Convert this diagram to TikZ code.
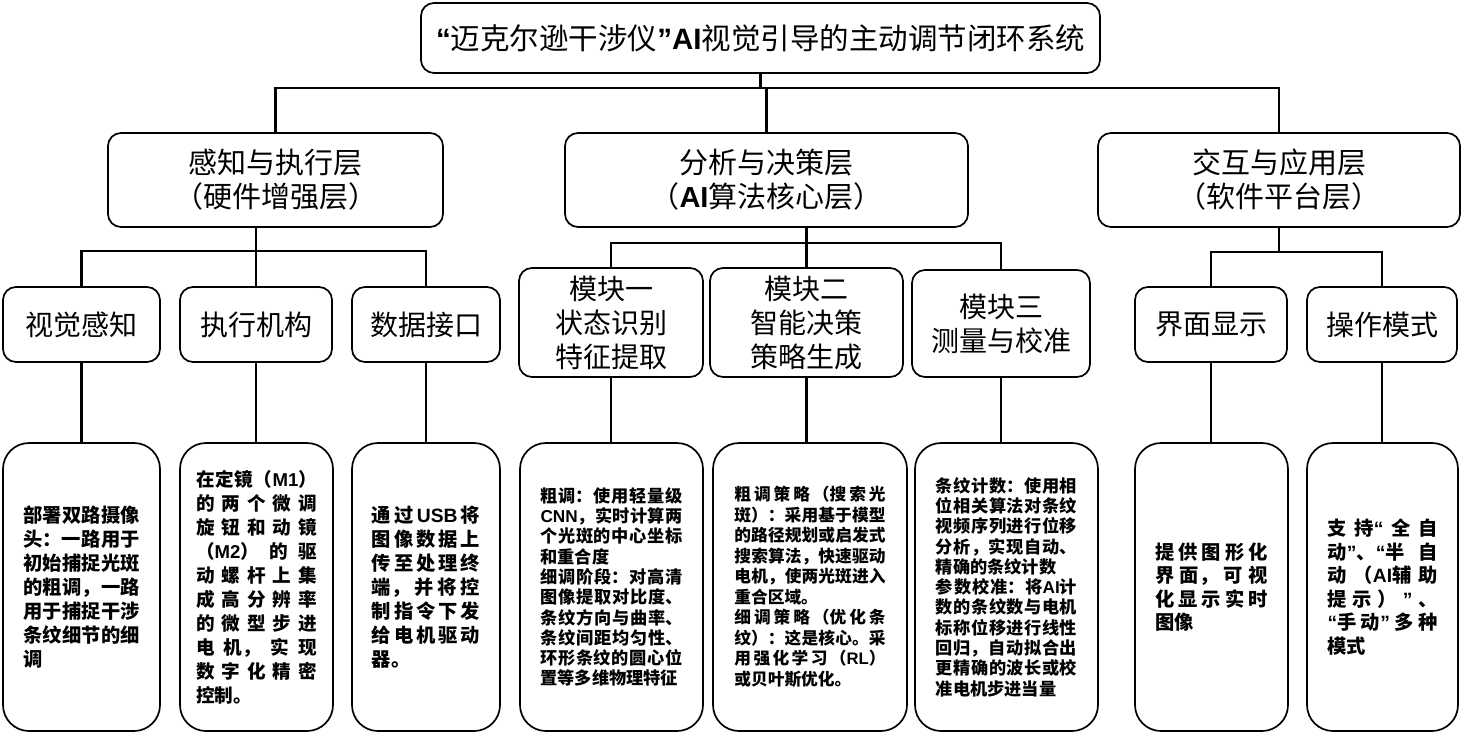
\documentclass[tikz,border=0pt]{standalone}
\usepackage{fontspec}
\setmainfont{Noto Sans CJK SC}
\newfontfamily\lat{Liberation Sans}
\newcommand\latn[1]{{\lat\bfseries #1}}
\XeTeXlinebreaklocale "zh"
\XeTeXlinebreakskip=0pt
\setlength\parindent{0pt}
\newcommand\dtext[2]{\parbox{#1}{\XeTeXlinebreakskip=0pt plus 1fil\relax\parfillskip=0pt plus 1fill\relax #2}}
\tikzset{
  box/.style={draw, line width=1.7pt, rounded corners=13pt, inner sep=0pt, align=center},
  layer/.style={box, minimum height=94pt, font=\fontsize{29}{34}\selectfont},
  leaf/.style={box, minimum height=75pt, font=\fontsize{28}{34}\selectfont},
  module/.style={box, minimum height=109pt, font=\fontsize{28}{34}\selectfont},
  detail/.style={draw, line width=1.7pt, rounded corners=26pt, inner sep=0pt, minimum height=288pt},
  dA/.style={detail, font=\fontsize{19.3}{24}\selectfont\bfseries},
  dB/.style={detail, font=\fontsize{17.2}{20.3}\selectfont\bfseries},
  link/.style={line width=2.8pt},
}
\begin{document}
\begin{tikzpicture}[x=1pt,y=-1pt]
\useasboundingbox (0,0) rectangle (1465,737);
% title
\node[box, minimum width=679pt, minimum height=70pt, font=\fontsize{29.5}{34}\selectfont] (title) at (760.5,38)
  {\latn{“}迈克尔逊干涉仪\latn{”AI}视觉引导的主动调节闭环系统};
% layers
\node[layer, minimum width=335pt] (L1) at (275.5,180) {感知与执行层\\（硬件增强层）};
\node[layer, minimum width=403pt] (L2) at (766.5,180) {分析与决策层\\（\latn{AI}算法核心层）};
\node[layer, minimum width=362pt] (L3) at (1279,180) {交互与应用层\\（软件平台层）};
% second level
\node[leaf, minimum width=157pt] (p1) at (81.5,324.5) {视觉感知};
\node[leaf, minimum width=152pt] (p2) at (256,324.5) {执行机构};
\node[leaf, minimum width=148pt] (p3) at (426,324.5) {数据接口};
\node[module, minimum width=184pt] (m1) at (611,322.5) {模块一\\状态识别\\特征提取};
\node[module, minimum width=193pt] (m2) at (806.5,322.5) {模块二\\智能决策\\策略生成};
\node[module, minimum width=178pt, minimum height=107pt] (m3) at (1001,323.5) {模块三\\测量与校准};
\node[leaf, minimum width=152pt] (q1) at (1211,324.5) {界面显示};
\node[leaf, minimum width=150pt] (q2) at (1382,324.5) {操作模式};
% details
\node[dA, minimum width=157pt] (b1) at (81.5,587) {\dtext{6.05em}{部署双路摄像\break 头：一路用于\break 初始捕捉光斑\break 的粗调，一路\break 用于捕捉干涉\break 条纹细节的细\break 调}};
\node[dA, minimum width=153pt, font=\fontsize{18.6}{24}\selectfont\bfseries] (b2) at (256.5,587) {\dtext{6.5em}{在定镜（\latn{M1}）\break 的两个微调\break 旋钮和动镜\break （\latn{M2}）的驱\break 动螺杆上集\break 成高分辨率\break 的微型步进\break 电机，实现\break 数字化精密\break 控制。}};
\node[dA, minimum width=148pt] (b3) at (426,587) {\dtext{5.6em}{通\hfil 过\hfil \latn{USB}\hfil 将\break 图像数据上\break 传至处理终\break 端，并将控\break 制指令下发\break 给电机驱动\break 器。}};
\node[dB, minimum width=183pt] (b4) at (611.5,587) {\dtext{8.25em}{粗调：使用轻量级\break \latn{CNN}，实时计算两\break 个光斑的中心坐标\break 和重合度\par 细调阶段：对高清\break 图像提取对比度、\break 条纹方向与曲率、\break 条纹间距均匀性、\break 环形条纹的圆心位\break 置等多维物理特征}};
\node[detail, minimum width=194pt, font=\fontsize{16.7}{20.5}\selectfont\bfseries] (b5) at (810,587) {\dtext{9.05em}{粗调策略（搜索光\break 斑）：采用基于模型\break 的路径规划或启发式\break 搜索算法，快速驱动\break 电机，使两光斑进入\break 重合区域。\par 细调策略（优化条\break 纹）：这是核心。采\break 用强化学习（\latn{RL}）\break 或贝叶斯优化。}};
\node[dB, minimum width=183pt] (b6) at (1006.5,587) {\dtext{8.2em}{条纹计数：使用相\break 位相关算法对条纹\break 视频序列进行位移\break 分析，实现自动、\break 精确的条纹计数\par 参数校准：将\latn{AI}计\break 数的条纹数与电机\break 标称位移进行线性\break 回归，自动拟合出\break 更精确的波长或校\break 准电机步进当量}};
\node[dA, minimum width=153pt, font=\fontsize{19.3}{23.5}\selectfont\bfseries] (b7) at (1211.5,587) {\dtext{5.85em}{提供图形化\break 界面，可视\break 化显示实时\break 图像}};
\node[dA, minimum width=151pt, font=\fontsize{19.3}{23.5}\selectfont\bfseries] (b8) at (1382.5,587) {\dtext{5.7em}{支\hfil 持\latn{“}\hfil 全\hfil 自\break 动\latn{”}、\latn{“}半\hfil 自\break 动（\latn{AI}辅\hfil 助\break 提\hfil 示\hfil ）\hfil \latn{”}\hfil 、\break \latn{“}手\hfil 动\latn{”}\hfil 多\hfil 种\break 模式}};
% buses
\coordinate (bus0) at (0,88);
\coordinate (bus1) at (0,251);
\coordinate (bus2) at (0,243);
\coordinate (bus3) at (0,252);
% connectors
\draw[link] (title.south) -- (title.south |- bus0);
\draw[link] (L1.north) -- (L1.north |- bus0) -- (L3.north |- bus0) -- (L3.north);
\draw[link] (L2.north) -- (L2.north |- bus0);
\draw[link] (p2.north |- L1.south) -- (p2.north);
\draw[link] (p1.north) -- (p1.north |- bus1) -- (p3.north |- bus1) -- (p3.north);
\draw[link] (m2.north |- L2.south) -- (m2.north);
\draw[link] (m1.north) -- (m1.north |- bus2) -- (m3.north |- bus2) -- (m3.north);
\draw[link] (L3.south) -- (L3.south |- bus3);
\draw[link] (q1.north) -- (q1.north |- bus3) -- (q2.north |- bus3) -- (q2.north);
\foreach \a/\b in {p1/b1,p2/b2,p3/b3,m1/b4,m2/b5,m3/b6,q1/b7,q2/b8}
  \draw[link] (\a.south) -- (\a.south |- \b.north);
\end{tikzpicture}
\end{document}
